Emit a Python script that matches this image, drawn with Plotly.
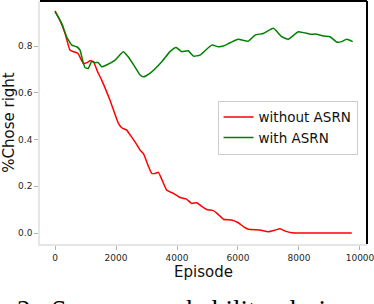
import plotly.graph_objects as go

# --- data ---
red_x = [0, 160, 330, 490, 600, 750, 930, 1050, 1150, 1260, 1400, 1530, 1800, 2080, 2200,
         2350, 2510, 2650, 2790, 2900, 3050, 3170, 3280, 3390, 3500, 3660, 3880, 4100, 4300,
         4480, 4650, 4800, 4970, 5190, 5350, 5520, 5790, 6010, 6200, 6340, 6720, 7000, 7200,
         7380, 7550, 7760, 8500, 9730]
red_y = [0.952, 0.912, 0.855, 0.784, 0.777, 0.770, 0.727, 0.730, 0.738, 0.734, 0.690, 0.655,
         0.570, 0.470, 0.450, 0.441, 0.412, 0.385, 0.355, 0.340, 0.290, 0.256, 0.255, 0.260,
         0.230, 0.184, 0.170, 0.152, 0.146, 0.127, 0.130, 0.115, 0.101, 0.096, 0.080, 0.059,
         0.056, 0.044, 0.025, 0.016, 0.013, 0.006, 0.012, 0.018, 0.008, 0.001, 0.000, 0.000]

green_x = [0, 220, 380, 550, 710, 820, 930, 990, 1090, 1200, 1320, 1420, 1530, 1690, 1970,
           2240, 2400, 2620, 2790, 2900, 3110, 3500, 3770, 3970, 4150, 4370, 4540, 4750, 5140,
           5360, 5520, 5740, 6010, 6340, 6560, 6830, 7160, 7430, 7650, 7980, 8360, 8580, 8800,
           9020, 9240, 9400, 9560, 9760]
green_y = [0.948, 0.898, 0.841, 0.805, 0.798, 0.784, 0.727, 0.708, 0.705, 0.734, 0.730, 0.730,
           0.712, 0.720, 0.741, 0.777, 0.755, 0.712, 0.677, 0.669, 0.684, 0.734, 0.777, 0.795,
           0.777, 0.781, 0.758, 0.762, 0.805, 0.798, 0.801, 0.815, 0.830, 0.822, 0.848, 0.855,
           0.877, 0.841, 0.830, 0.862, 0.852, 0.852, 0.844, 0.841, 0.818, 0.820, 0.830, 0.820]

series_names = ["without ASRN", "with ASRN"]
x_ticks = [0, 2000, 4000, 6000, 8000, 10000]
y_ticks = [0.0, 0.2, 0.4, 0.6, 0.8]
x_title = "Episode"
y_title = "%Chose right"
caption_words = ["2:", "Success", "probability", "during"]

FONT = "DejaVu Sans"

fig = go.Figure()
fig.add_trace(go.Scatter(x=red_x, y=red_y, mode="lines", name=series_names[0],
                         line=dict(color="#ff0000", width=1.5, shape="spline", smoothing=0.4)))
fig.add_trace(go.Scatter(x=green_x, y=green_y, mode="lines", name=series_names[1],
                         line=dict(color="#008000", width=1.5, shape="spline", smoothing=0.4)))

axis_common = dict(showgrid=False, zeroline=False, showline=True, linecolor="#e6e6e6",
                   linewidth=1.5, ticks="outside", ticklen=4, tickcolor="#b0b0b0",
                   tickfont=dict(family=FONT, size=9, color="#262626"))

fig.update_layout(
    width=374, height=304,
    margin=dict(l=40, r=7, t=1, b=60),
    paper_bgcolor="white", plot_bgcolor="white",
    xaxis=dict(range=[-492, 10230], tickvals=x_ticks, tickformat="d", ticklabeloverflow="allow",
               title=dict(text=x_title, font=dict(family=FONT, size=15, color="#111111"), standoff=4),
               automargin=False, **axis_common),
    yaxis=dict(range=[-0.047, 0.994], tickvals=y_ticks, tickformat=".1f",
               title=dict(text=y_title, font=dict(family=FONT, size=15, color="#111111"), standoff=6),
               automargin=False, **axis_common),
    legend=dict(x=0.543, y=0.59, xanchor="left", yanchor="top", bgcolor="white",
                bordercolor="#cccccc", borderwidth=1,
                font=dict(family=FONT, size=13.5, color="#111111")),
    shapes=[
        dict(type="line", xref="paper", yref="paper", x0=0, x1=1, y0=1, y1=1,
             line=dict(color="black", width=2), layer="above"),
        dict(type="line", xref="paper", yref="paper", x0=1, x1=1, y0=0, y1=1,
             line=dict(color="black", width=2), layer="above"),
    ],
    annotations=[
        dict(text="\u00a0\u00a0".join(caption_words), xref="paper", yref="paper",
             x=-0.0765, y=-0.203, xanchor="left", yanchor="top", showarrow=False,
             font=dict(family="Liberation Serif", size=27, color="black")),
    ],
)

fig.write_html("out.html", config={"displayModeBar": False},
               post_script="document.body.style.margin='0';document.body.style.overflow='hidden';")
